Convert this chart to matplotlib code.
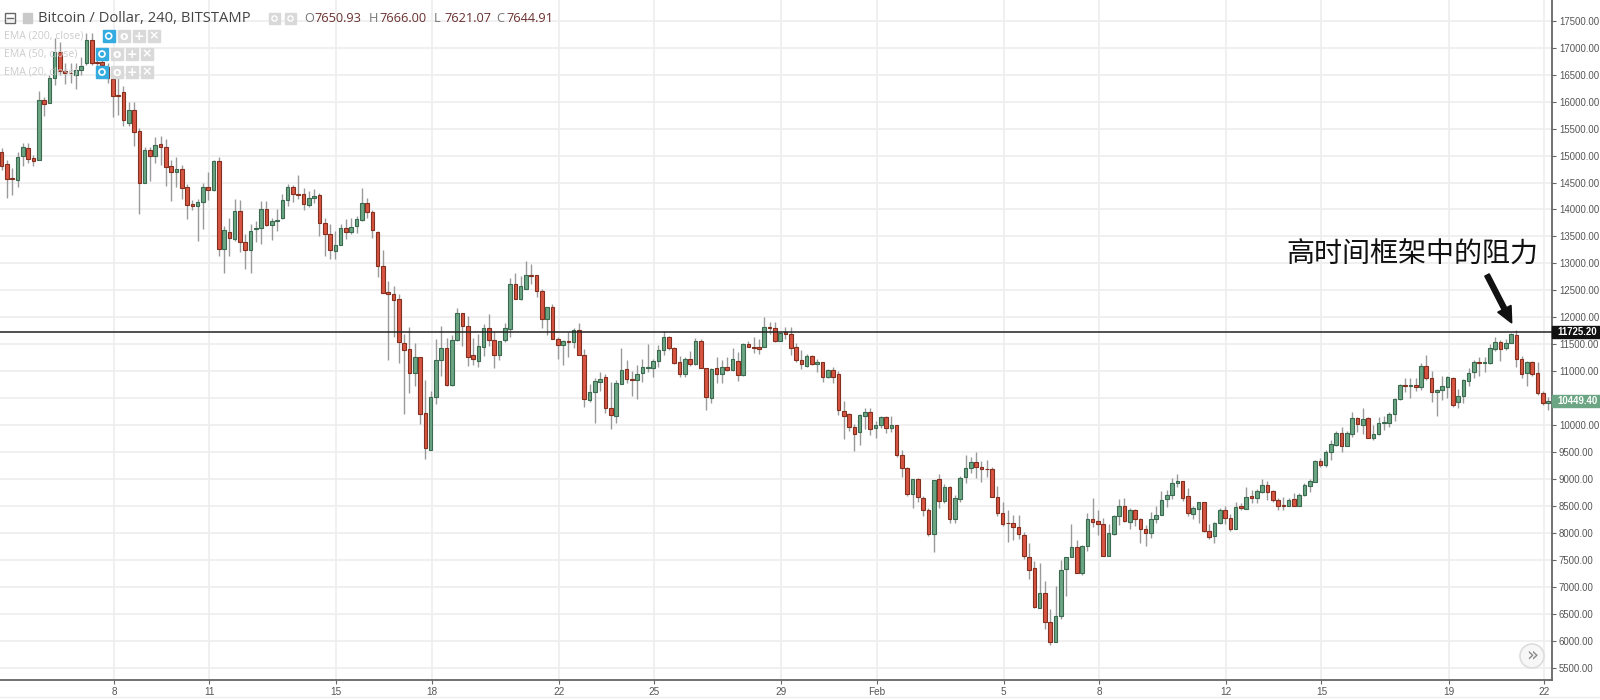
import numpy as np
import matplotlib
matplotlib.use("Agg")
import matplotlib.pyplot as plt
from matplotlib.patches import Rectangle, Circle, FancyArrow

opens = [15074,14845,14575,14550,14990,15145,14955,14925,16030,15975,16430,16925,16575,16535,16490,16590,16710,17140,16735,16735,
16645,16425,16125,16170,15600,15845,15460,14490,15100,15000,15210,15165,14800,14690,14750,14410,14095,14060,14135,14410,
14360,14900,13265,13575,13450,13970,13395,13240,13635,13655,14000,13715,13790,13840,14175,14425,14280,14280,14085,14205,
14265,13755,13540,13230,13350,13655,13585,13700,13810,14120,13950,13590,12950,12465,12425,12335,11530,11415,10970,11270,
10220,9550,10520,11215,11430,10740,11580,12085,11840,11300,11195,11445,11810,11575,11295,11575,11785,12610,12340,12535,
12780,12790,12495,11965,12185,11590,11490,11560,11545,11760,11295,10475,10615,10810,10890,10315,10180,10760,11040,10855,
10840,10960,11055,11070,11195,11390,11630,11430,11175,10950,11235,11130,11560,11055,10510,11055,10950,11085,11030,11195,
10935,11500,11457,11445,11455,11815,11800,11570,11720,11690,11445,11215,11100,11285,11135,11165,10895,11025,10955,10265,
10205,9975,9870,10165,10240,9955,10000,10155,9940,10005,9450,9215,8720,9010,8650,8425,7990,9010,8590,8855,
8260,8630,9035,9205,9310,9220,9195,9190,8665,8370,8190,8191,8123,7960,7555,7360,6620,6890,6345,5980,
6455,7330,7550,7740,7270,7770,8260,8230,8175,7580,7980,8325,8500,8210,8425,8260,8080,8005,8270,8335,
8640,8700,8925,8965,8685,8360,8445,8575,8045,7945,8195,8425,8290,8075,8494,8450,8680,8660,8770,8900,
8780,8620,8520,8495,8635,8495,8700,8880,8955,9340,9265,9500,9635,9865,9620,9840,10130,10005,10140,9755,
9840,10045,10050,10200,10480,10745,10735,10745,10705,11105,10880,10625,10655,10715,10875,10425,10545,10825,10990,11175,
11155,11150,11420,11550,11440,11530,11680,11235,10970,11165,10960,10590,10420]
closes = [14815,14568,14560,14970,15150,14935,14905,16030,15955,16430,16925,16575,16530,16525,16590,16665,17140,16720,16720,16670,
16430,16105,16110,15650,15845,15440,14490,15100,14995,15190,15160,14795,14700,14750,14405,14090,14060,14135,14410,14355,
14890,13265,13625,13465,13970,13395,13240,13610,13655,14000,13715,13790,13805,14180,14415,14280,14265,14095,14215,14255,
13755,13540,13240,13345,13655,13585,13670,13820,14120,13945,13615,12945,12445,12435,12325,11545,11395,10970,11270,10200,
9585,10520,11205,11430,10755,11575,12085,11835,11265,11230,11470,11810,11575,11295,11570,11810,12610,12340,12575,12790,
12765,12495,11965,12185,11590,11490,11555,11550,11760,11295,10480,10610,10815,10860,10315,10195,10780,11020,10860,10840,
10945,11075,11075,11185,11395,11630,11425,11150,10950,11235,11140,11560,11055,10530,11035,10950,11085,11030,11220,10930,
11500,11455,11440,11420,11825,11800,11570,11710,11700,11440,11210,11130,11290,11130,11165,10900,11025,10895,10285,10180,
9970,9840,10185,10240,9930,10000,10155,9940,10005,9440,9215,8730,8995,8665,8430,7990,8990,8600,8855,8270,
8650,9030,9210,9310,9220,9190,9185,8665,8370,8175,8180,8123,7975,7570,7320,6635,6890,6345,5975,6455,
7315,7555,7740,7270,7765,8260,8205,8175,7580,8000,8320,8495,8220,8425,8260,8085,8010,8260,8340,8620,
8705,8925,8965,8660,8370,8460,8575,8045,7925,8190,8425,8290,8075,8490,8465,8665,8660,8785,8900,8760,
8620,8495,8495,8620,8510,8700,8900,8960,9340,9265,9505,9650,9860,9615,9865,10130,10020,10110,9760,9830,
10035,10060,10205,10490,10745,10725,10745,10715,11105,10875,10625,10655,10730,10895,10375,10550,10845,10975,11175,11150,
11175,11425,11535,11420,11530,11685,11235,10955,11165,10955,10590,10410,10449]
highs = [15135,14920,14770,15070,15230,15240,15010,16205,16090,16495,17175,17100,16710,16710,16710,16830,17265,17265,16800,16770,
16710,16495,16525,16290,16000,15990,15510,15165,15165,15340,15365,15300,14920,14980,14830,14475,14180,14190,14500,14700,
14920,14970,13685,13840,14190,14180,13545,13735,13780,14160,14160,13850,14005,14285,14470,14455,14635,14405,14340,14375,
14300,13835,13730,13605,13730,13820,13850,13885,14405,14205,13995,13600,13255,12680,12585,12430,11690,11815,11525,11270,
10830,10630,11600,11845,11610,11675,12170,12085,12020,11610,11690,11875,12060,11755,11570,11905,12735,12825,12765,13050,
12990,12790,12520,12185,12250,11640,11580,11735,11795,11905,11415,10765,10870,10995,10950,10810,10840,11425,11210,11000,
11115,11220,11505,11230,11490,11745,11655,11455,11285,11270,11385,11625,11590,11055,11055,11260,11210,11260,11440,11365,
11520,11560,11630,11595,12000,11915,11915,11735,11825,11825,11530,11395,11315,11305,11220,11180,11035,11075,11000,10455,
10220,10025,10210,10315,10315,10085,10175,10175,10175,10005,9545,9235,9005,9030,8680,8465,8990,9100,8910,8880,
8710,9060,9455,9405,9505,9345,9355,9220,8865,8575,8430,8340,8340,8030,7815,7475,7445,7105,6590,7025,
7495,7555,8165,7875,7785,8370,8650,8430,8280,8165,8340,8635,8650,8465,8445,8280,8155,8400,8495,8785,
8800,9030,9100,8965,8835,8505,8585,8575,8175,8210,8465,8505,8360,8575,8555,8850,8800,8815,9000,8975,
8800,8650,8665,8650,8750,8750,8925,9000,9360,9390,9545,9730,9885,9975,9885,10240,10160,10315,10160,10005,
10150,10175,10255,10500,10765,10870,10870,10870,11150,11300,11005,10665,10920,10915,10900,10670,10860,11055,11210,11270,
11270,11500,11640,11580,11590,11715,11765,11285,11200,11185,11165,10630,10520]
lows = [14735,14210,14270,14410,14815,14860,14815,14925,15740,15975,16310,16495,16330,16340,16235,16495,16680,16680,16620,16585,
16340,15720,15755,15550,15550,15180,13920,14490,14520,14855,14830,14440,14150,14425,14190,13820,13995,13425,13635,14180,
14350,13130,12820,13145,13425,13220,12895,12820,13405,13360,13700,13430,13605,13820,14070,14140,14190,13995,14050,14115,
13510,13130,13090,13090,13340,13450,13545,13560,13790,13850,13480,12740,12445,11215,11630,11150,10200,10600,10735,10025,
9375,9550,10385,10920,10735,10735,11570,11475,11105,11115,11085,11290,11475,11055,11215,11540,11630,12340,12320,12520,
12615,12370,11795,11670,11590,11220,11115,11260,11425,11295,10345,10440,10035,10640,10220,9930,10050,10760,10780,10550,
10490,10795,10980,10900,11085,11300,11395,11135,10900,10890,11100,11115,11055,10285,10405,10790,10780,11010,11010,10825,
10915,11445,11345,11315,11455,11685,11550,11570,11590,11300,11180,11045,11085,11115,10995,10800,10870,10790,10190,9740,
9885,9530,9625,9930,9820,9770,9945,9850,9880,9420,9035,8680,8475,8585,8325,7940,7650,8465,8555,8185,
8185,8570,8925,9110,9015,8940,9050,8665,8310,8125,7845,7875,7890,7520,7150,6620,6620,6220,5930,5980,
6405,6830,7550,7260,7220,7660,8110,7970,7580,7580,7970,8155,8210,8075,8125,7815,7765,7905,8185,8335,
8480,8635,8850,8600,8310,8260,8185,8015,7890,7825,8165,8165,8045,8075,8430,8450,8555,8555,8750,8615,
8570,8430,8430,8495,8495,8495,8690,8770,8955,9235,9220,9360,9615,9510,9615,9790,9880,9840,9760,9730,
9820,9915,9975,10070,10470,10625,10500,10640,10655,10840,10440,10175,10470,10500,10345,10315,10410,10730,10870,10920,
10995,11130,11385,11200,11395,11520,11085,10880,10720,10915,10555,10380,10290]

price_ticks = list(range(5500, 18000, 500))
hidden_price_label = 10500
date_labels = ["8","11","15","18","22","25","29","Feb","5","8","12","15","19","22"]
date_candles = [21,39,63,81,105,123,147,165,189,207,231,249,273,291]
level_price = 11725.20
last_price = 10449.40
title = "Bitcoin / Dollar, 240, BITSTAMP"
ohlc_labels = [("O","7650.93"),("H","7666.00"),("L","7621.07"),("C","7644.91")]
ema_labels = ["EMA (200, close)","EMA (50, close)","EMA (20, close)"]
annotation = "高时间框架中的阻力"

W, H = 1600, 700
fig = plt.figure(figsize=(16, 7), dpi=100, facecolor="white")
ax = fig.add_axes([0, (H-680)/H, 1552/W, 680/H])
n = min(map(len, (opens, closes, highs, lows)))
o, c, h, l = [np.array(a[:n], float) for a in (opens, closes, highs, lows)]
x = np.arange(n)
px = 5.296
ax.set_xlim(-1.67/px, (1552-1.67)/px)
ax.set_ylim(5500-12*18.54, 17500+20.7*18.54)

GRID = "#eeeeee"
ax.set_axisbelow(True)
ax.grid(True, color=GRID, lw=1.2)
ax.set_xticks(np.array(date_candles)+0.2)
ax.set_xticklabels(date_labels)
ax.set_yticks(price_ticks)
ax.set_yticklabels(["" if p == hidden_price_label else f"{p:.2f}" for p in price_ticks])
ax.yaxis.tick_right()
ax.tick_params(axis="y", length=3, width=0.8, color="#666666", labelcolor="#555555", labelsize=6.9, pad=2)
ax.tick_params(axis="x", length=3, width=0.8, color="#666666", labelcolor="#555555", labelsize=7.2, pad=2)
for lab in ax.get_yticklabels()+ax.get_xticklabels():
    lab.set_family(["Liberation Sans"])
for s in ("top","left"):
    ax.spines[s].set_visible(False)
for s in ("right","bottom"):
    ax.spines[s].set_color("#666666")
    ax.spines[s].set_linewidth(1.3)

up = c >= o
ax.vlines(x, l, h, color="#9a9a9a", lw=1.0, zorder=2)
bw = 0.68
ax.bar(x[up], (c-o)[up], bottom=o[up], width=bw, color="#6BA583", edgecolor="#3b6a50", lw=0.8, zorder=3)
ax.bar(x[~up], (c-o)[~up], bottom=o[~up], width=bw, color="#D75442", edgecolor="#84301f", lw=0.8, zorder=3)

ax.axhline(level_price, color="#222222", lw=1.1, zorder=4)
ytr = ax.get_yaxis_transform()
ppx = 18.54
for price, col, txt in ((level_price, "#111111", f"{level_price:.2f}"), (last_price, "#6BA583", f"{last_price:.2f}")):
    ax.add_patch(Rectangle((1.0, price-6*ppx), 48/1552, 12*ppx, transform=ytr, color=col, clip_on=False, zorder=5))
    ax.text(1.0+5/1552, price, txt, transform=ytr, color="white", fontsize=6.9, fontweight="bold",
            family=["Liberation Sans"], va="center", ha="left", clip_on=False, zorder=6)

ov = fig.add_axes([0, 0, 1, 1], facecolor="none")
ov.set_xlim(0, W); ov.set_ylim(H, 0); ov.axis("off")
ov.add_line(plt.Line2D([0, W], [697, 697], color="#eeeeee", lw=1))

ov.add_patch(Rectangle((5, 13), 10, 10, fill=False, ec="#666666", lw=1))
ov.plot([7, 13], [18, 18], color="#666666", lw=1)
ov.add_patch(Rectangle((23, 13), 9, 10, color="#c9c9c9"))
ov.text(38, 18, title, fontsize=10.6, family=["Open Sans"], color="#444444", va="center", ha="left")
for xx in (269, 285):
    ov.add_patch(Rectangle((xx, 13), 11, 11, color="#d9d9d9"))
    ov.add_patch(Circle((xx+5.5, 18.5), 2.6, fill=False, ec="white", lw=1))
for (a, b), xx in zip(ohlc_labels, (304, 369, 434, 496)):
    ov.text(xx, 18, a, fontsize=9.2, family=["Open Sans"], color="#777777", va="center", ha="left")
    ov.text(xx+10, 18, b, fontsize=9.2, family=["Open Sans"], color="#6b3030", va="center", ha="left")

rows = [(36, 102.7), (54, 96), (72, 96)]
for (yy, xe), lab in zip(rows, ema_labels):
    ov.text(4, yy, lab, fontsize=7.6, family=["Open Sans"], color="#cccccc", va="center", ha="left")
    ov.add_patch(Rectangle((xe, yy-6), 12, 12, color="#35ace0"))
    ov.add_patch(Circle((xe+6, yy), 3, fill=False, ec="white", lw=1.2))
    for j, mark in enumerate(("o", "+", "×")):
        xb = xe + 15 + 15*j
        ov.add_patch(Rectangle((xb, yy-6), 12, 12, color="#d9d9d9"))
        ov.text(xb+6, yy, mark, color="white", fontsize=9, fontweight="bold", va="center", ha="center")

ov.text(1538, 255, annotation, fontsize=20.2, family=["Noto Sans CJK SC", "DejaVu Sans"],
        color="#111111", va="center", ha="right")
ov.add_patch(FancyArrow(1487, 275, 24.7, 48, width=5, head_width=15, head_length=16,
                        length_includes_head=True, color="#111111"))

ov.add_patch(Circle((1532, 656), 12, fc="#f7f7f7", ec="#dddddd", lw=1.2))
ov.text(1532, 655, "»", fontsize=14, color="#888888", va="center", ha="center")

fig.savefig("out.png", dpi=100)
